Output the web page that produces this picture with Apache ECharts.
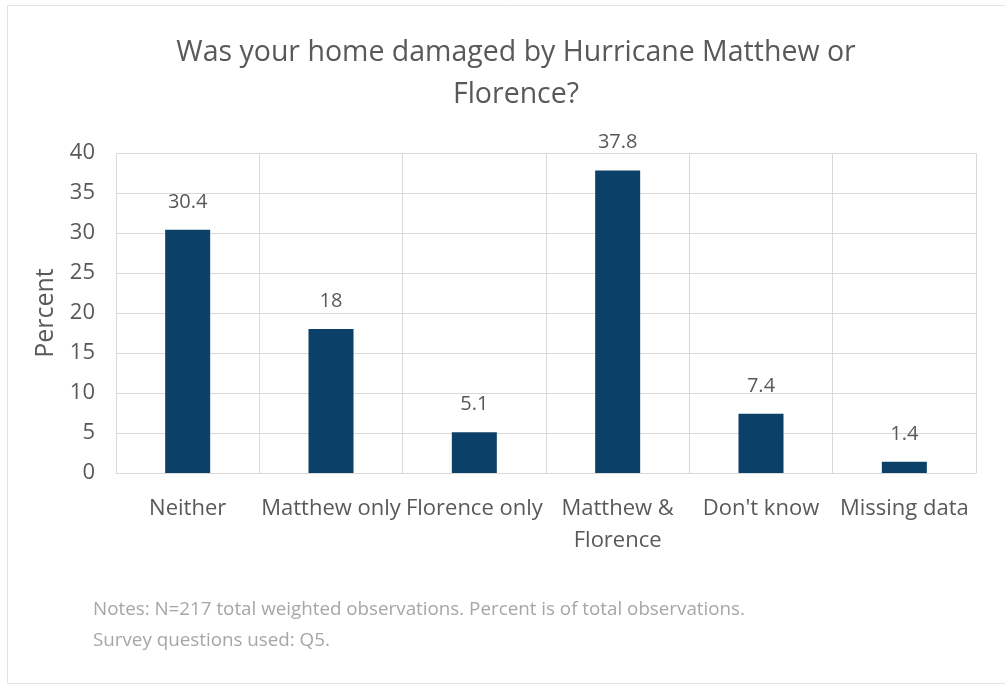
<!DOCTYPE html>
<html>
<head>
<meta charset="utf-8">
<script src="https://cdn.jsdelivr.net/npm/echarts@6/dist/echarts.min.js"></script>
<style>
  html, body { margin: 0; padding: 0; background: #ffffff; }
  #chart { width: 1005px; height: 685px; }
</style>
</head>
<body>
<div id="chart"></div>
<script>
// Hurricane damage survey responses (percent of total observations)
const categories = ['Neither', 'Matthew only', 'Florence only', 'Matthew &\nFlorence', "Don't know", 'Missing data'];
const percentValues = [30.4, 18, 5.1, 37.8, 7.4, 1.4];
const yTicks = [0, 5, 10, 15, 20, 25, 30, 35, 40];

const FONT = '"Open Sans", Lato, sans-serif';
const TEXT = '#595959';

const chart = echarts.init(document.getElementById('chart'), null, { renderer: 'canvas' });

chart.setOption({
  backgroundColor: '#ffffff',
  animation: false,
  title: {
    text: 'Was your home damaged by Hurricane Matthew or\nFlorence?',
    left: 511,
    top: 27,
    textAlign: 'center',
    textStyle: { fontFamily: FONT, fontSize: 28.5, fontWeight: 'normal', color: TEXT, lineHeight: 42 }
  },
  grid: { left: 116, right: 29, top: 153, bottom: 212, containLabel: false },
  xAxis: {
    type: 'category',
    data: categories,
    axisTick: { show: false },
    axisLine: { show: true, lineStyle: { color: '#d9d9d9', width: 1 } },
    splitLine: { show: true, lineStyle: { color: '#d9d9d9', width: 1 } },
    axisLabel: { fontFamily: FONT, fontSize: 22, color: TEXT, margin: 20, lineHeight: 32, interval: 0 }
  },
  yAxis: {
    type: 'value',
    min: yTicks[0],
    max: yTicks[yTicks.length - 1],
    interval: yTicks[1] - yTicks[0],
    name: 'Percent',
    nameLocation: 'middle',
    nameGap: 58,
    nameRotate: 90,
    nameTextStyle: { fontFamily: FONT, fontSize: 25, color: TEXT },
    axisLine: { show: false },
    axisTick: { show: false },
    splitLine: { show: true, lineStyle: { color: '#d9d9d9', width: 1 } },
    axisLabel: { fontFamily: FONT, fontSize: 22, color: TEXT, margin: 21 }
  },
  series: [{
    type: 'bar',
    data: percentValues,
    barWidth: 45,
    itemStyle: { color: '#0b4168' },
    label: {
      show: true,
      position: 'top',
      distance: 18,
      fontFamily: FONT,
      fontSize: 20,
      color: TEXT
    }
  }],
  graphic: [
    {
      type: 'rect',
      shape: { x: 7.5, y: 5.5, width: 1010, height: 678 },
      style: { fill: 'none', stroke: '#e3e3e3', lineWidth: 1 },
      z: -1
    },
    {
      type: 'text',
      left: 93,
      top: 594,
      style: {
        text: 'Notes: N=217 total weighted observations. Percent is of total observations.\nSurvey questions used: Q5.',
        fontFamily: FONT,
        fontSize: 18.8,
        lineHeight: 31,
        fill: '#a6a6a6'
      }
    }
  ]
});
</script>
</body>
</html>
